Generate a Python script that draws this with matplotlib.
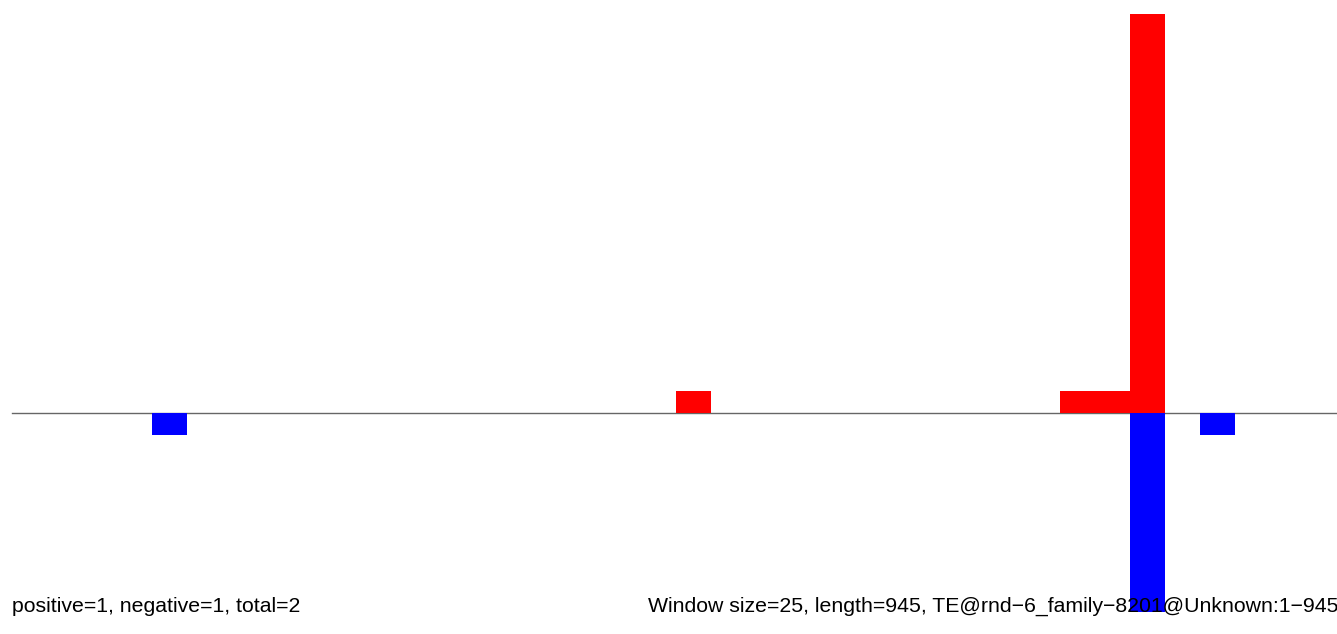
import matplotlib
matplotlib.use("Agg")
import matplotlib.pyplot as plt
import numpy as np

plt.rcParams['font.family'] = ['Liberation Sans', 'DejaVu Sans']

# window settings
window_size = 25
seq_length = 945

# counts per window (window start positions)
pos_starts = [475, 750, 775, 800]
pos_counts = [1, 1, 1, 18]
neg_starts = [100, 800, 850]
neg_counts = [1, 9, 1]

left_label = "positive=1, negative=1, total=2"
right_label = "Window size=25, length=945, TE@rnd\u22126_family\u22128201@Unknown:1\u2212945"

W, H = 1337, 634
fig = plt.figure(figsize=(W / 100, H / 100), dpi=100)

# axes cover the whole figure, limits chosen to match the reference scaling
px_per_unit_x = 34.93 / window_size
x0_px = 12.3
ax = fig.add_axes([0, 0, 1, 1])
ax.set_xlim(-x0_px / px_per_unit_x, (W - x0_px) / px_per_unit_x)

zero_px = 413
px_per_count = 22.15
ax.set_ylim(-(H - zero_px) / px_per_count, zero_px / px_per_count)

ax.bar(pos_starts, pos_counts, width=window_size, align='edge', color='#ff0000', linewidth=0, zorder=2)
ax.bar(neg_starts, [-c for c in neg_counts], width=window_size, align='edge', color='#0000ff', linewidth=0, zorder=2)

ax.plot([0, ax.get_xlim()[1]], [0, 0], color='#666666', linewidth=1, zorder=1)

ax.axis('off')

fig.text(12 / W, 1 - 612 / H, left_label, fontsize=15.3, va='baseline', ha='left', zorder=5)
fig.text(648 / W, 1 - 612 / H, right_label, fontsize=15.3, va='baseline', ha='left', zorder=5)

fig.savefig("out.png", dpi=100)
